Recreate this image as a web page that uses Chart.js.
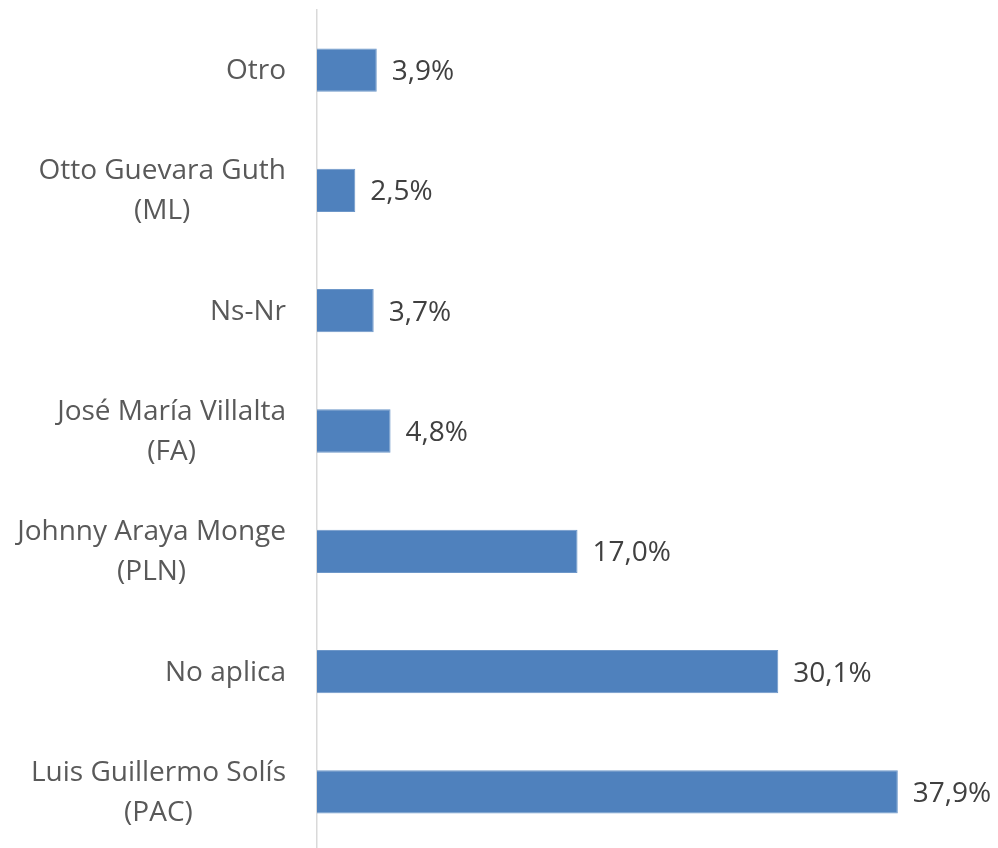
<!DOCTYPE html>
<html lang="es">
<head>
    <meta charset="UTF-8">
    <title>Intención de voto</title>
    <script src="https://cdn.jsdelivr.net/npm/chart.js"></script>
    <style>
        html, body { margin: 0; padding: 0; background: #ffffff; overflow: hidden; }
        .wrap { position: relative; width: 998px; height: 852px; }
    </style>
</head>
<body>
    <div class="wrap"><canvas id="votoChart"></canvas></div>

    <script>
        // categories, top to bottom
        const categorias = [
            'Otro',
            ['Otto Guevara Guth', '(ML)'],
            'Ns-Nr',
            ['José María Villalta', '(FA)'],
            ['Johnny Araya Monge', '(PLN)'],
            'No aplica',
            ['Luis Guillermo Solís', '(PAC)']
        ];
        const porcentajes = [3.9, 2.5, 3.7, 4.8, 17.0, 30.1, 37.9];

        const FONT = '"Open Sans", Lato, sans-serif';
        const FONT_SIZE = 28;

        // category names: block right-aligned, lines centred inside the block
        const nombresPlugin = {
            id: 'nombres',
            afterDraw(chart) {
                const ctx = chart.ctx;
                const y = chart.scales.y;
                const right = y.right - 31;
                ctx.save();
                ctx.font = FONT_SIZE + 'px ' + FONT;
                ctx.fillStyle = '#595959';
                ctx.textAlign = 'center';
                ctx.textBaseline = 'middle';
                categorias.forEach((lab, i) => {
                    const lines = Array.isArray(lab) ? lab : [lab];
                    const w = Math.max(...lines.map(l => ctx.measureText(l).width));
                    const cx = right - w / 2;
                    const cy = y.getPixelForValue(i) + 1;
                    const lh = 40;
                    lines.forEach((l, k) => {
                        ctx.fillText(l, cx, cy + (k - (lines.length - 1) / 2) * lh);
                    });
                });
                ctx.restore();
            }
        };

        // value labels at the end of each bar
        const etiquetasPlugin = {
            id: 'etiquetas',
            afterDatasetsDraw(chart) {
                const ctx = chart.ctx;
                const meta = chart.getDatasetMeta(0);
                ctx.save();
                ctx.font = FONT_SIZE + 'px ' + FONT;
                ctx.fillStyle = '#404040';
                ctx.textAlign = 'left';
                ctx.textBaseline = 'middle';
                meta.data.forEach((bar, i) => {
                    const txt = porcentajes[i].toFixed(1).replace('.', ',') + '%';
                    ctx.fillText(txt, bar.x + 15, bar.y + 2);
                });
                ctx.restore();
            }
        };

        new Chart(document.getElementById('votoChart'), {
            type: 'bar',
            data: {
                labels: categorias,
                datasets: [{
                    data: porcentajes,
                    backgroundColor: '#4f81bd',
                    borderColor: '#6d97c9',
                    borderWidth: 1,
                    categoryPercentage: 1,
                    barPercentage: 0.36
                }]
            },
            options: {
                indexAxis: 'y',
                responsive: true,
                maintainAspectRatio: false,
                animation: false,
                layout: { padding: { top: 10, right: 68, bottom: 0, left: 0 } },
                plugins: {
                    legend: { display: false },
                    tooltip: { enabled: false }
                },
                scales: {
                    x: {
                        display: false,
                        min: 0,
                        max: 40
                    },
                    y: {
                        afterFit(scale) {
                            scale.width = 317;
                            scale.paddingTop = 0;
                            scale.paddingBottom = 0;
                        },
                        border: { display: true, color: '#d9d9d9', width: 1.5 },
                        grid: { display: false, drawTicks: false },
                        ticks: { display: false }
                    }
                }
            },
            plugins: [etiquetasPlugin, nombresPlugin]
        });
    </script>
</body>
</html>
